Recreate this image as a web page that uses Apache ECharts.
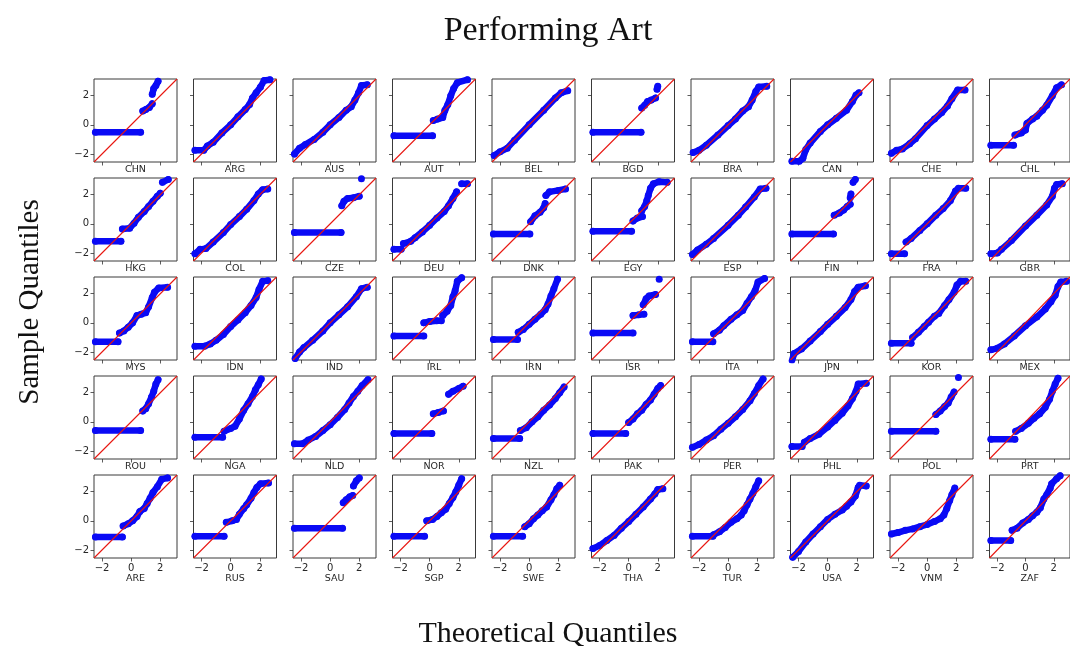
<!DOCTYPE html>
<html>
<head>
<meta charset="utf-8">
<script src="https://cdn.jsdelivr.net/npm/echarts@6/dist/echarts.min.js"></script>
<style>
  html, body { margin: 0; padding: 0; background: #fff; }
  #chart { width: 1070px; height: 646px; }
</style>
</head>
<body>
<div id="chart"></div>
<script>
// Q-Q plots of performing-art scores by country: sample quantiles against
// theoretical normal quantiles. Each country is a list of runs of points
// (theoretical, sample); a run is drawn as one continuous band of markers.
const chartTitle = 'Performing Art';
const xTitle = 'Theoretical Quantiles';
const yTitle = 'Sample Quantiles';
const axisRange = [-2.55, 3.15];
const tickValues = [-2, 0, 2];

const countries = [
  'CHN','ARG','AUS','AUT','BEL','BGD','BRA','CAN','CHE','CHL',
  'HKG','COL','CZE','DEU','DNK','EGY','ESP','FIN','FRA','GBR',
  'MYS','IDN','IND','IRL','IRN','ISR','ITA','JPN','KOR','MEX',
  'ROU','NGA','NLD','NOR','NZL','PAK','PER','PHL','POL','PRT',
  'ARE','RUS','SAU','SGP','SWE','THA','TUR','USA','VNM','ZAF'
];

const CHN = [[[-2.45,-0.5],[0.65,-0.5]], [[0.8,0.95],[1.0,1.05],[1.25,1.2],[1.45,1.45]], [[1.45,2.1],[1.55,2.5],[1.7,2.7],[1.85,3.0]]];
const ARG = [[[-2.45,-1.75],[-1.85,-1.75],[-1.6,-1.45],[-1.2,-1.2],[-0.6,-0.55],[0,0],[0.5,0.55],[1.0,1.05],[1.3,1.4],[1.5,1.85],[1.75,2.2],[2.05,2.6],[2.3,3.05],[2.7,3.1]]];
const AUS = [[[-2.45,-2.0],[-2.1,-1.6],[-1.7,-1.35],[-1.1,-1.0],[-0.5,-0.5],[0,0],[0.6,0.5],[1.1,1.0],[1.45,1.25],[1.7,1.7],[1.95,2.2],[2.15,2.7],[2.55,2.75]]];
const AUT = [[[-2.45,-0.75],[0.2,-0.75]], [[0.25,0.3],[0.55,0.4],[0.9,0.5],[1.05,1.0],[1.25,1.4],[1.45,2.0],[1.65,2.5],[1.9,2.9],[2.6,3.1]]];
const BEL = [[[-2.4,-2.1],[-2.0,-1.85],[-1.5,-1.6],[-1.0,-1.05],[0,0],[1.0,1.0],[1.8,1.85],[2.2,2.2],[2.65,2.35]]];
const BGD = [[[-2.45,-0.5],[0.85,-0.5]], [[0.9,1.15],[1.1,1.35],[1.3,1.6],[1.55,1.7],[1.85,1.85]], [[1.95,2.45],[2.0,2.65]]];
const BRA = [[[-2.4,-1.9],[-2.0,-1.75],[-1.5,-1.4],[-0.7,-0.7],[0,-0.05],[0.5,0.4],[1.0,0.95],[1.4,1.25],[1.65,1.7],[1.9,2.3],[2.1,2.6],[2.65,2.65]]];
const CAN = [[[-2.45,-2.5],[-1.95,-2.5],[-1.7,-2.3],[-1.5,-1.7],[-1.2,-1.25],[-0.5,-0.45],[0,0],[0.6,0.45],[1.3,1.0],[1.7,1.6],[1.95,2.05],[2.15,2.2]]];
const CHE = [[[-2.45,-1.95],[-2.1,-1.75],[-1.7,-1.65],[-1.2,-1.3],[-0.8,-0.95],[0,-0.05],[0.5,0.4],[1.0,0.85],[1.4,1.3],[1.7,1.8],[2.1,2.4],[2.6,2.4]]];
const CHL = [[[-2.45,-1.4],[-0.85,-1.4]], [[-0.75,-0.7],[-0.3,-0.55],[0,-0.35],[0.1,0.1],[0.5,0.4],[0.8,0.6],[1.2,1.0],[1.5,1.35],[1.9,2.0],[2.2,2.55],[2.55,2.75]]];

const HKG = [[[-2.45,-1.2],[-0.7,-1.2]], [[-0.6,-0.35],[-0.1,-0.3],[0.2,0.05],[0.5,0.45],[0.9,0.85],[1.2,1.2],[1.5,1.55],[1.8,1.9],[2.0,2.1]], [[2.15,2.85],[2.55,3.05]]];
const COL = [[[-2.45,-2.05],[-2.1,-1.75],[-1.7,-1.7],[-1.2,-1.25],[-0.5,-0.6],[0,-0.05],[0.6,0.5],[1.1,1.0],[1.6,1.6],[1.9,2.05],[2.2,2.35],[2.55,2.4]]];
const CZE = [[[-2.45,-0.6],[0.75,-0.6]], [[0.8,1.25],[0.95,1.55],[1.2,1.75],[1.6,1.8],[2.0,1.9]], [[2.15,3.1]]];
const DEU = [[[-2.45,-1.75],[-1.95,-1.75]], [[-1.8,-1.35],[-1.3,-1.2],[-1.0,-0.95],[-0.5,-0.55],[0,-0.1],[0.5,0.4],[1.0,0.85],[1.3,1.25],[1.6,1.75],[1.85,2.2]], [[2.2,2.75],[2.6,2.75]]];
const DNK = [[[-2.45,-0.7],[0.05,-0.7]], [[0.1,0.15],[0.4,0.55],[0.75,0.8],[1.0,1.1],[1.1,1.4]], [[1.15,1.95],[1.4,2.2],[2.0,2.3],[2.5,2.4]]];
const EGY = [[[-2.45,-0.5],[0.2,-0.5]], [[0.3,0.2],[0.6,0.4],[0.95,0.5]], [[0.9,0.9],[1.1,1.2],[1.25,1.6],[1.35,1.95],[1.5,2.45],[1.7,2.75],[2.1,2.9],[2.65,2.85]]];
const ESP = [[[-2.45,-2.1],[-2.1,-1.8],[-1.5,-1.4],[-1.0,-1.0],[0,-0.1],[0.7,0.6],[1.2,1.15],[1.8,1.85],[2.2,2.4],[2.6,2.45]]];
const FIN = [[[-2.45,-0.7],[0.4,-0.7]], [[0.45,0.6],[0.8,0.75],[1.1,0.95],[1.35,1.2],[1.55,1.35]], [[1.55,1.8],[1.6,2.05]], [[1.75,2.85],[1.9,3.05]]];
const FRA = [[[-2.45,-2.05],[-1.55,-2.05]], [[-1.45,-1.25],[-1.1,-1.0],[-0.5,-0.45],[0,0],[0.6,0.6],[1.1,1.05],[1.6,1.6],[1.95,2.25],[2.15,2.45],[2.65,2.45]]];
const GBR = [[[-2.45,-2.05],[-2.0,-2.0],[-1.7,-1.75],[-1.0,-1.15],[0,-0.15],[0.8,0.6],[1.5,1.3],[1.9,1.9],[2.05,2.45],[2.2,2.7],[2.6,2.75]]];

const MYS = [[[-2.45,-1.3],[-0.9,-1.3]], [[-0.8,-0.7],[-0.5,-0.55],[-0.2,-0.3],[0.1,0.0],[0.4,0.5],[0.7,0.6],[1.0,0.7],[1.2,1.1],[1.45,1.75],[1.6,2.1],[1.9,2.4],[2.5,2.45]]];
const IDN = [[[-2.45,-1.6],[-1.8,-1.6],[-1.4,-1.45],[-1.0,-1.2],[-0.5,-0.8],[0,-0.25],[0.5,0.2],[1.0,0.7],[1.4,1.2],[1.75,1.75],[1.95,2.3],[2.2,2.85],[2.55,2.9]]];
const IND = [[[-2.4,-2.45],[-2.1,-2.0],[-1.8,-1.7],[-1.2,-1.2],[-0.5,-0.55],[0,0],[0.6,0.55],[1.2,1.1],[1.8,1.8],[2.15,2.35],[2.55,2.45]]];
const IRL = [[[-2.45,-0.9],[-0.4,-0.9]], [[-0.4,0.0],[0.0,0.1],[0.5,0.15],[0.8,0.15]], [[0.9,0.5],[1.2,0.8],[1.45,1.2],[1.6,1.8],[1.75,2.2],[1.9,2.85],[2.2,3.1]]];
const IRN = [[[-2.45,-1.15],[-0.8,-1.15]], [[-0.75,-0.65],[-0.4,-0.45],[0,-0.1],[0.4,0.25],[0.8,0.6],[1.1,0.9],[1.3,1.3],[1.5,1.85],[1.7,2.35],[1.95,3.0]]];
const ISR = [[[-2.45,-0.7],[0.3,-0.7]], [[0.3,0.5],[0.7,0.55],[1.05,0.6]], [[1.0,1.25],[1.2,1.65],[1.4,1.85],[1.85,1.95]], [[2.1,3.0]]];
const ITA = [[[-2.45,-1.3],[-1.05,-1.3]], [[-1.0,-0.75],[-0.6,-0.5],[-0.3,-0.2],[0.2,0.25],[0.6,0.55],[1.0,0.85],[1.3,1.35],[1.6,1.8],[1.85,2.2],[2.05,2.8],[2.5,3.05]]];
const JPN = [[[-2.45,-2.6],[-2.3,-2.1],[-1.8,-1.8],[-1.2,-1.25],[-0.5,-0.6],[0,-0.1],[0.6,0.45],[1.2,1.05],[1.6,1.6],[1.85,2.15],[2.1,2.45],[2.6,2.55]]];
const KOR = [[[-2.45,-1.4],[-1.1,-1.4]], [[-1.0,-1.0],[-0.6,-0.65],[-0.2,-0.25],[0.1,0.05],[0.5,0.45],[0.8,0.65],[1.2,1.2],[1.5,1.6],[1.85,2.1],[2.05,2.6],[2.3,2.85],[2.65,2.85]]];
const MEX = [[[-2.45,-1.85],[-2.0,-1.75],[-1.5,-1.45],[-0.8,-0.9],[0,-0.2],[0.8,0.4],[1.4,0.95],[1.8,1.45],[2.1,1.9],[2.3,2.5],[2.5,2.8],[2.9,2.85]]];

const ROU = [[[-2.45,-0.6],[0.65,-0.6]], [[0.8,0.75],[1.0,0.9],[1.2,1.25],[1.4,1.7],[1.55,2.1],[1.7,2.6],[1.85,2.9]]];
const NGA = [[[-2.45,-1.05],[-0.55,-1.05]], [[-0.45,-0.65],[0,-0.45],[0.3,-0.3],[0.6,0.2],[0.9,0.8],[1.2,1.25],[1.5,1.75],[1.7,2.2],[1.9,2.55],[2.1,2.95]]];
const NLD = [[[-2.45,-1.5],[-1.9,-1.5],[-1.5,-1.25],[-1.0,-1.0],[-0.5,-0.6],[0,-0.2],[0.5,0.3],[1.0,0.85],[1.3,1.3],[1.6,1.75],[1.9,2.1],[2.2,2.5],[2.6,2.9]]];
const NOR = [[[-2.45,-0.8],[0.15,-0.8]], [[0.25,0.55],[0.6,0.65],[0.95,0.75]], [[1.3,1.9],[1.6,2.1],[2.0,2.3],[2.3,2.45]]];
const NZL = [[[-2.45,-1.15],[-0.65,-1.15]], [[-0.6,-0.6],[-0.2,-0.4],[0.2,0.0],[0.6,0.35],[1.0,0.8],[1.4,1.15],[1.8,1.6],[2.1,2.0],[2.4,2.4]]];
const PAK = [[[-2.45,-0.8],[-0.2,-0.8]], [[0.0,-0.05],[0.3,0.2],[0.6,0.55],[0.9,0.8],[1.2,1.2],[1.5,1.5],[1.75,1.9],[2.0,2.3],[2.2,2.5]]];
const PER = [[[-2.45,-1.75],[-2.0,-1.55],[-1.5,-1.25],[-1.0,-0.95],[-0.5,-0.5],[0,-0.1],[0.5,0.35],[1.0,0.85],[1.5,1.45],[1.8,1.95],[2.1,2.5],[2.4,2.95]]];
const PHL = [[[-2.45,-1.7],[-1.75,-1.7]], [[-1.6,-1.4],[-1.2,-1.15],[-0.6,-0.85],[0,-0.35],[0.5,0.1],[1.0,0.6],[1.4,1.1],[1.7,1.6],[1.95,2.1],[2.1,2.6],[2.65,2.65]]];
const POL = [[[-2.45,-0.65],[0.6,-0.65]], [[0.6,0.5],[0.9,0.75],[1.2,1.05],[1.45,1.3],[1.65,1.7],[1.85,2.05]], [[2.15,3.05]]];
const PRT = [[[-2.45,-1.2],[-0.75,-1.2]], [[-0.7,-0.65],[-0.3,-0.45],[0.2,-0.1],[0.6,0.25],[1.0,0.55],[1.4,1.0],[1.7,1.55],[1.9,2.1],[2.1,2.6],[2.3,3.0]]];

const ARE = [[[-2.45,-1.1],[-0.6,-1.1]], [[-0.55,-0.35],[-0.2,-0.2],[0.1,0.0],[0.4,0.3],[0.6,0.65],[0.9,0.85],[1.1,1.2],[1.3,1.55],[1.5,1.95],[1.8,2.35],[2.1,2.85],[2.5,2.95]]];
const RUS = [[[-2.45,-1.05],[-0.45,-1.05]], [[-0.3,-0.1],[0.1,0.0],[0.4,0.1],[0.6,0.45],[0.9,0.85],[1.1,1.1],[1.4,1.55],[1.6,1.95],[1.8,2.3],[2.05,2.55],[2.6,2.6]]];
const SAU = [[[-2.45,-0.5],[0.85,-0.5]], [[0.9,1.25],[1.1,1.45],[1.35,1.65],[1.55,1.75]], [[1.6,2.4],[1.8,2.75],[2.0,2.95]]];
const SGP = [[[-2.45,-1.05],[-0.35,-1.05]], [[-0.2,0.0],[0.2,0.1],[0.5,0.3],[0.8,0.55],[1.1,0.8],[1.35,1.2],[1.6,1.6],[1.8,2.0],[2.0,2.45],[2.2,2.9]]];
const SWE = [[[-2.45,-1.05],[-0.45,-1.05]], [[-0.3,-0.4],[0,-0.2],[0.3,0.15],[0.6,0.4],[0.9,0.7],[1.2,0.95],[1.5,1.45],[1.7,1.8],[1.9,2.2],[2.1,2.45]]];
const THA = [[[-2.45,-1.9],[-2.0,-1.7],[-1.5,-1.35],[-1.0,-1.0],[-0.5,-0.5],[0,-0.05],[0.5,0.45],[1.0,0.95],[1.5,1.5],[1.8,1.85],[2.0,2.15],[2.35,2.2]]];
const TUR = [[[-2.45,-1.05],[-1.05,-1.05]], [[-1.0,-0.95],[-0.6,-0.75],[-0.2,-0.45],[0.2,-0.1],[0.6,0.15],[0.9,0.4],[1.1,0.7],[1.3,1.1],[1.5,1.5],[1.7,1.9],[1.9,2.35],[2.1,2.75]]];
const USA = [[[-2.4,-2.5],[-2.0,-2.1],[-1.5,-1.45],[-1.0,-0.9],[-0.5,-0.4],[0,0.1],[0.5,0.45],[1.0,0.75],[1.3,1.0],[1.6,1.3],[1.9,1.7],[2.1,2.3],[2.2,2.45],[2.65,2.4]]];
const VNM = [[[-2.45,-0.9],[-2.0,-0.8],[-1.5,-0.65],[-1.0,-0.55],[-0.5,-0.4],[0,-0.25],[0.5,-0.05],[0.9,0.15],[1.15,0.4],[1.35,0.85],[1.55,1.4],[1.7,1.8],[1.9,2.25]]];
const ZAF = [[[-2.45,-1.35],[-1.05,-1.35]], [[-0.95,-0.65],[-0.6,-0.5],[-0.2,-0.15],[0.2,0.1],[0.5,0.35],[0.8,0.6],[1.05,0.9],[1.3,1.5],[1.5,1.8],[1.75,2.25],[1.85,2.55],[2.2,2.9],[2.45,3.1]]];

const panels = [
  CHN, ARG, AUS, AUT, BEL, BGD, BRA, CAN, CHE, CHL,
  HKG, COL, CZE, DEU, DNK, EGY, ESP, FIN, FRA, GBR,
  MYS, IDN, IND, IRL, IRN, ISR, ITA, JPN, KOR, MEX,
  ROU, NGA, NLD, NOR, NZL, PAK, PER, PHL, POL, PRT,
  ARE, RUS, SAU, SGP, SWE, THA, TUR, USA, VNM, ZAF
];

// ---- layout of the 5 x 10 panel grid ----
const nCols = 10, nRows = 5;
const gridLeft0 = 94, gridTop0 = 79, colStep = 99.5, rowStep = 99, boxSize = 83;
const titleCenterX = 548;
const markerBlue = '#0a0af5';
const lineRed = '#e8150f';
const inkColor = '#262626';
const tickFont = 'DejaVu Sans, sans-serif';
const serifFont = '"Liberation Serif", "Times New Roman", serif';
const fmtTick = v => String(v).replace('-', '\u2212');

const grids = [], xAxes = [], yAxes = [], series = [];

panels.forEach((segments, i) => {
  const r = Math.floor(i / nCols), c = i % nCols;
  const isBottom = r === nRows - 1, isLeft = c === 0;
  grids.push({
    left: gridLeft0 + c * colStep, top: gridTop0 + r * rowStep,
    width: boxSize, height: boxSize,
    show: true, borderColor: '#3a3a3a', borderWidth: 1, backgroundColor: '#fff'
  });
  xAxes.push({
    gridIndex: i, type: 'value', min: axisRange[0], max: axisRange[1], position: 'bottom',
    name: countries[i], nameLocation: 'middle', nameGap: isBottom ? 15 : 3,
    nameTextStyle: { fontFamily: tickFont, fontSize: 9.5, color: inkColor, verticalAlign: 'top' },
    axisLine: { show: false, onZero: false },
    axisTick: { show: true, customValues: tickValues, length: 3.5, lineStyle: { color: '#333', width: 0.8 } },
    axisLabel: { show: isBottom, customValues: tickValues, formatter: fmtTick, margin: 5,
                 fontFamily: tickFont, fontSize: 10, color: inkColor },
    splitLine: { show: false }
  });
  yAxes.push({
    gridIndex: i, type: 'value', min: axisRange[0], max: axisRange[1], position: 'left',
    axisLine: { show: false, onZero: false },
    axisTick: { show: true, customValues: tickValues, length: 3.5, lineStyle: { color: '#333', width: 0.8 } },
    axisLabel: { show: isLeft, customValues: tickValues, formatter: fmtTick, margin: 5,
                 fontFamily: tickFont, fontSize: 10, color: inkColor },
    splitLine: { show: false }
  });
  // sample points, one band per run
  segments.forEach(seg => {
    series.push({
      type: 'line', xAxisIndex: i, yAxisIndex: i, data: seg,
      symbol: 'circle', symbolSize: 7, showSymbol: true,
      itemStyle: { color: markerBlue },
      lineStyle: { color: markerBlue, width: 6.5, cap: 'round', join: 'round' },
      clip: true, silent: true, animation: false, z: 2
    });
  });
  // 45-degree reference line
  series.push({
    type: 'line', xAxisIndex: i, yAxisIndex: i,
    data: [[axisRange[0], axisRange[0]], [axisRange[1], axisRange[1]]],
    symbol: 'none', lineStyle: { color: lineRed, width: 1.1 },
    clip: true, silent: true, animation: false, z: 3
  });
});

const chart = echarts.init(document.getElementById('chart'), null, { renderer: 'canvas' });
chart.setOption({
  backgroundColor: '#fff',
  animation: false,
  grid: grids, xAxis: xAxes, yAxis: yAxes, series: series,
  graphic: [
    { type: 'text', x: titleCenterX, y: 14,
      style: { text: chartTitle, font: '34px ' + serifFont, fill: '#111', align: 'center', verticalAlign: 'top' } },
    { type: 'text', x: titleCenterX, y: 619,
      style: { text: xTitle, font: '30px ' + serifFont, fill: '#111', align: 'center', verticalAlign: 'top' } },
    { type: 'text', x: 16, y: 302, rotation: Math.PI / 2,
      style: { text: yTitle, font: '29px ' + serifFont, fill: '#111', align: 'center', verticalAlign: 'top' } }
  ]
});
</script>
</body>
</html>
